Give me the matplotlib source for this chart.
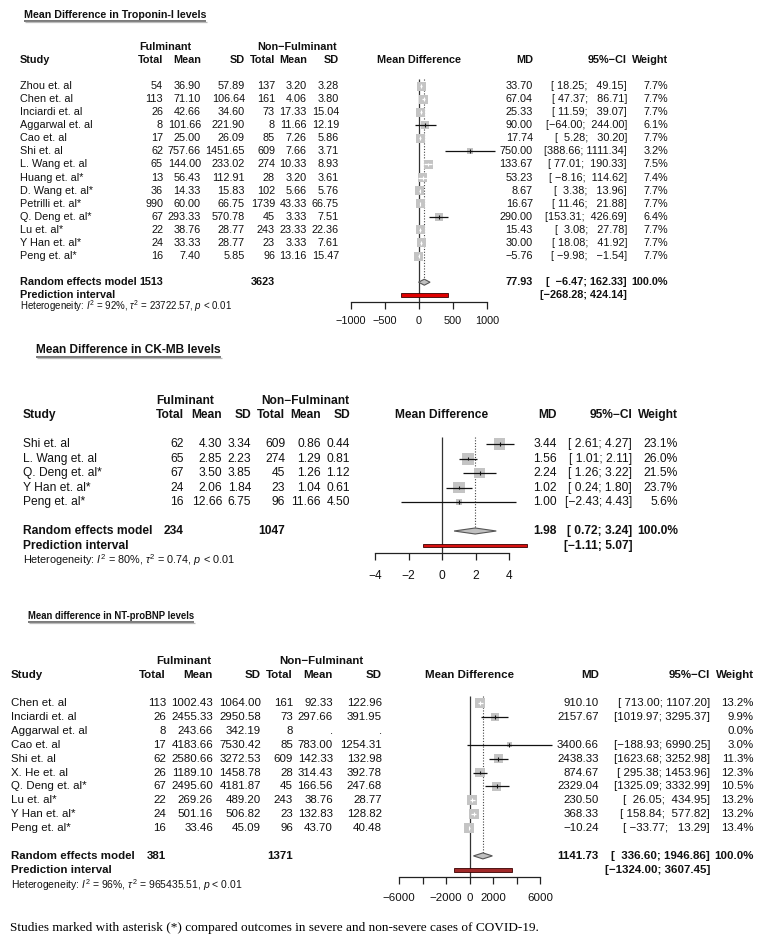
import numpy as np
import matplotlib
matplotlib.use("Agg")
import matplotlib.pyplot as plt
from matplotlib.transforms import blended_transform_factory

plt.rcParams['font.family'] = ['Liberation Sans', 'DejaVu Sans']
plt.rcParams['mathtext.fontset'] = 'custom'
plt.rcParams['mathtext.rm'] = 'Liberation Sans'
plt.rcParams['mathtext.it'] = 'Liberation Sans:italic'
plt.rcParams['mathtext.bf'] = 'Liberation Sans:bold'

NAN = float('nan')

# ---------------- Panel 1: Troponin-I ----------------
tn_title = "Mean Difference in Troponin-I levels"
tn_studies = ["Zhou et. al", "Chen et. al", "Inciardi et. al", "Aggarwal et. al", "Cao et. al",
              "Shi et. al", "L. Wang et. al", "Huang et. al*", "D. Wang et. al*", "Petrilli et. al*",
              "Q. Deng et. al*", "Lu et. al*", "Y Han et. al*", "Peng et. al*"]
tn_f_total = [54, 113, 26, 8, 17, 62, 65, 13, 36, 990, 67, 22, 24, 16]
tn_f_mean = [36.90, 71.10, 42.66, 101.66, 25.00, 757.66, 144.00, 56.43, 14.33, 60.00, 293.33, 38.76, 33.33, 7.40]
tn_f_sd = [57.89, 106.64, 34.60, 221.90, 26.09, 1451.65, 233.02, 112.91, 15.83, 66.75, 570.78, 28.77, 28.77, 5.85]
tn_n_total = [137, 161, 73, 8, 85, 609, 274, 28, 102, 1739, 45, 243, 23, 96]
tn_n_mean = [3.20, 4.06, 17.33, 11.66, 7.26, 7.66, 10.33, 3.20, 5.66, 43.33, 3.33, 23.33, 3.33, 13.16]
tn_n_sd = [3.28, 3.80, 15.04, 12.19, 5.86, 3.71, 8.93, 3.61, 5.76, 66.75, 7.51, 22.36, 7.61, 15.47]
tn_md = [33.70, 67.04, 25.33, 90.00, 17.74, 750.00, 133.67, 53.23, 8.67, 16.67, 290.00, 15.43, 30.00, -5.76]
tn_lo = [18.25, 47.37, 11.59, -64.00, 5.28, 388.66, 77.01, -8.16, 3.38, 11.46, 153.31, 3.08, 18.08, -9.98]
tn_hi = [49.15, 86.71, 39.07, 244.00, 30.20, 1111.34, 190.33, 114.62, 13.96, 21.88, 426.69, 27.78, 41.92, -1.54]
tn_w = [7.7, 7.7, 7.7, 6.1, 7.7, 3.2, 7.5, 7.4, 7.7, 7.7, 6.4, 7.7, 7.7, 7.7]
tn_pooled = [77.93, -6.47, 162.33]
tn_pred = [-268.28, 424.14]
tn_totals = [1513, 3623]
tn_het = "Heterogeneity: $I^2$ = 92%, $\\tau^2$ = 23722.57, $p$ < 0.01"
tn_ticks = [-1000, -500, 0, 500, 1000]
tn_ticklabels = ["\u22121000", "\u2212500", "0", "500", "1000"]

# ---------------- Panel 2: CK-MB ----------------
ck_title = "Mean Difference in CK-MB levels"
ck_studies = ["Shi et. al", "L. Wang et. al", "Q. Deng et. al*", "Y Han et. al*", "Peng et. al*"]
ck_f_total = [62, 65, 67, 24, 16]
ck_f_mean = [4.30, 2.85, 3.50, 2.06, 12.66]
ck_f_sd = [3.34, 2.23, 3.85, 1.84, 6.75]
ck_n_total = [609, 274, 45, 23, 96]
ck_n_mean = [0.86, 1.29, 1.26, 1.04, 11.66]
ck_n_sd = [0.44, 0.81, 1.12, 0.61, 4.50]
ck_md = [3.44, 1.56, 2.24, 1.02, 1.00]
ck_lo = [2.61, 1.01, 1.26, 0.24, -2.43]
ck_hi = [4.27, 2.11, 3.22, 1.80, 4.43]
ck_w = [23.1, 26.0, 21.5, 23.7, 5.6]
ck_pooled = [1.98, 0.72, 3.24]
ck_pred = [-1.11, 5.07]
ck_totals = [234, 1047]
ck_het = "Heterogeneity: $I^2$ = 80%, $\\tau^2$ = 0.74, $p$ < 0.01"
ck_ticks = [-4, -2, 0, 2, 4]
ck_ticklabels = ["\u22124", "\u22122", "0", "2", "4"]

# ---------------- Panel 3: NT-proBNP ----------------
bn_title = "Mean difference in NT-proBNP levels"
bn_studies = ["Chen et. al", "Inciardi et. al", "Aggarwal et. al", "Cao et. al", "Shi et. al",
              "X. He et. al", "Q. Deng et. al*", "Lu et. al*", "Y Han et. al*", "Peng et. al*"]
bn_f_total = [113, 26, 8, 17, 62, 26, 67, 22, 24, 16]
bn_f_mean = [1002.43, 2455.33, 243.66, 4183.66, 2580.66, 1189.10, 2495.60, 269.26, 501.16, 33.46]
bn_f_sd = [1064.00, 2950.58, 342.19, 7530.42, 3272.53, 1458.78, 4181.87, 489.20, 506.82, 45.09]
bn_n_total = [161, 73, 8, 85, 609, 28, 45, 243, 23, 96]
bn_n_mean = [92.33, 297.66, NAN, 783.00, 142.33, 314.43, 166.56, 38.76, 132.83, 43.70]
bn_n_sd = [122.96, 391.95, NAN, 1254.31, 132.98, 392.78, 247.68, 28.77, 128.82, 40.48]
bn_md = [910.10, 2157.67, NAN, 3400.66, 2438.33, 874.67, 2329.04, 230.50, 368.33, -10.24]
bn_lo = [713.00, 1019.97, NAN, -188.93, 1623.68, 295.38, 1325.09, 26.05, 158.84, -33.77]
bn_hi = [1107.20, 3295.37, NAN, 6990.25, 3252.98, 1453.96, 3332.99, 434.95, 577.82, 13.29]
bn_w = [13.2, 9.9, 0.0, 3.0, 11.3, 12.3, 10.5, 13.2, 13.2, 13.4]
bn_pooled = [1141.73, 336.60, 1946.86]
bn_pred = [-1324.00, 3607.45]
bn_totals = [381, 1371]
bn_het = "Heterogeneity: $I^2$ = 96%, $\\tau^2$ = 965435.51, $p$ < 0.01"
bn_ticks = [-6000, -4000, -2000, 0, 2000, 4000, 6000]
bn_ticklabels = ["\u22126000", "", "\u22122000", "0", "2000", "", "6000"]

footnote = "Studies marked with asterisk (*) compared outcomes in severe and non-severe cases of COVID-19."

MINUS = "\u2212"


def isnan(v):
    return isinstance(v, float) and np.isnan(v)


def fmt(v):
    if isnan(v):
        return "."
    return f"{v:.2f}".replace("-", MINUS)


def ci_strings(lo, hi):
    ls = [fmt(v) for v in lo]
    hs = [fmt(v) for v in hi]
    valid = [not isnan(v) for v in lo]
    wl = max(len(s) for s, ok in zip(ls, valid) if ok)
    wh = max(len(s) for s, ok in zip(hs, valid) if ok)
    return ["[" + a.rjust(wl) + "; " + b.rjust(wh) + "]" if ok else ""
            for a, b, ok in zip(ls, hs, valid)]


W, H = 764, 936
fig = plt.figure(figsize=(W / 100, H / 100), dpi=100)
bg = fig.add_axes([0, 0, 1, 1])
bg.set_xlim(0, W)
bg.set_ylim(H, 0)
bg.axis('off')

SQ = "#c4c4c4"
TXT = "#111111"


def panel(cfg, studies, f_total, f_mean, f_sd, n_total, n_mean, n_sd,
          md, lo, hi, w, pooled, pred, totals, het, ticks, ticklabels, title):
    y0, sp = cfg['y0'], cfg['sp']
    fs = cfg['fs']
    top_row, bot_row = -4.0, cfg['het_row'] + 3
    top_px, bot_px = y0 + top_row * sp, y0 + bot_row * sp
    lpx, rpx = cfg['plot_px']
    ax = fig.add_axes([lpx / W, 1 - bot_px / H, (rpx - lpx) / W, (bot_px - top_px) / H])
    zero, sc = cfg['zero'], cfg['scale']
    ax.set_xlim((lpx - zero) / sc, (rpx - zero) / sc)
    ax.set_ylim(bot_row, top_row)
    ax.patch.set_visible(False)
    for s in ['top', 'right', 'left']:
        ax.spines[s].set_visible(False)
    ax.spines['bottom'].set_position(('data', cfg['axis_row']))
    ax.spines['bottom'].set_bounds(ticks[0], ticks[-1])
    ax.spines['bottom'].set_linewidth(0.9)
    ax.spines['bottom'].set_color('#222222')
    ax.set_xticks(ticks)
    ax.set_xticklabels(ticklabels)
    ax.set_yticks([])
    ax.tick_params(axis='x', length=5, width=0.9, pad=cfg['tick_pad'], labelsize=cfg['tick_fs'],
                   color='#222222', labelcolor=TXT)
    tr = blended_transform_factory(bg.transData, ax.transData)

    n = len(studies)
    rows = np.arange(n)
    re_row, pi_row = cfg['re_row'], cfg['pi_row']

    def T(x, y, s, ha='right', bold=False, size=None):
        ax.text(x, y, s, transform=tr, ha=ha, va='center', fontsize=size or fs,
                fontweight='bold' if bold else 'normal', color=TXT, clip_on=False)

    c = cfg['cols']
    # headers
    T(cfg['fhead'], -3, "Fulminant", ha='center', bold=True)
    T(cfg['nhead'], -3, "Non" + MINUS + "Fulminant", ha='center', bold=True)
    T(cfg['study_x'], -2, "Study", ha='left', bold=True)
    for x, s in zip(c, ["Total", "Mean", "SD", "Total", "Mean", "SD"]):
        T(x, -2, s, bold=True)
    T(zero, -2, "Mean Difference", ha='center', bold=True)
    T(cfg['md_x'], -2, "MD", bold=True)
    T(cfg['ci_x'], -2, "95%" + MINUS + "CI", bold=True)
    T(cfg['w_x'], -2, "Weight", bold=True)

    cis = ci_strings(lo, hi)
    for i in range(n):
        T(cfg['study_x'], i, studies[i], ha='left')
        T(c[0], i, str(f_total[i]))
        T(c[1], i, fmt(f_mean[i]))
        T(c[2], i, fmt(f_sd[i]))
        T(c[3], i, str(n_total[i]))
        T(c[4], i, fmt(n_mean[i]))
        T(c[5], i, fmt(n_sd[i]))
        if not isnan(md[i]):
            T(cfg['md_x'], i, fmt(md[i]))
            T(cfg['ci_x'], i, cis[i])
        T(cfg['w_x'], i, f"{w[i]:.1f}%")

    # pooled rows
    pc = ci_strings([pooled[1], pred[0]], [pooled[2], pred[1]])
    T(cfg['study_x'], re_row, "Random effects model", ha='left', bold=True)
    T(c[0], re_row, str(totals[0]), bold=True)
    T(c[3], re_row, str(totals[1]), bold=True)
    T(cfg['md_x'], re_row, fmt(pooled[0]), bold=True)
    T(cfg['ci_x'], re_row, pc[0], bold=True)
    T(cfg['w_x'], re_row, "100.0%", bold=True)
    T(cfg['study_x'], pi_row, "Prediction interval", ha='left', bold=True)
    T(cfg['ci_x'], pi_row, pc[1], bold=True)
    T(cfg['study_x'], cfg['het_row'], het, ha='left', size=cfg['het_fs'])

    # reference lines
    ax.vlines(0, -0.5, cfg['axis_row'], colors='#333333', lw=0.9)
    ax.vlines(pooled[0], -0.5, re_row, colors='#444444', lw=0.8, linestyles=(0, (1, 1.5)))

    # study boxes
    md_a = np.array(md, dtype=float)
    lo_a = np.array(lo, dtype=float)
    hi_a = np.array(hi, dtype=float)
    w_a = np.array(w, dtype=float)
    ok = ~np.isnan(md_a) & (w_a > 0)
    side = cfg['box'] * np.sqrt(w_a / w_a.max())
    inside = ((md_a - lo_a) * sc <= side / 2) & ((hi_a - md_a) * sc <= side / 2)
    lcol = np.where(inside, 'white', '#111111')
    ax.scatter(md_a[ok], rows[ok], s=(side[ok] * 0.72) ** 2, marker='s', color=SQ,
               linewidths=0, zorder=3, clip_on=False)
    ax.hlines(rows[ok], lo_a[ok], hi_a[ok], colors=list(lcol[ok]), lw=0.9, zorder=4, clip_on=False)
    ax.scatter(md_a[ok], rows[ok], s=8, marker='|', c=list(lcol[ok]), linewidths=0.8,
               zorder=5, clip_on=False)

    # diamond
    dh = 3.0 / sp
    ax.fill([pooled[1], pooled[0], pooled[2], pooled[0]],
            [re_row, re_row - dh, re_row, re_row + dh],
            facecolor='#c0c0c0', edgecolor='#555555', lw=0.8, zorder=4, clip_on=False)
    # prediction interval
    ax.barh(pi_row, pred[1] - pred[0], left=pred[0], height=3.6 / sp,
            color=cfg['pred_col'], edgecolor='#3a0000', lw=0.6, zorder=4, clip_on=False)

    # title
    t = bg.text(cfg['title_xy'][0], cfg['title_xy'][1], title, ha='left', va='center',
                fontsize=cfg['title_fs'], fontweight='bold', color=TXT)
    return t


cfg1 = dict(y0=86, sp=13.08, fs=7.8, het_fs=7.0, tick_fs=7.8, tick_pad=5.5, re_row=15, pi_row=16,
            axis_row=16.5, het_row=16.85, plot_px=(330, 510), zero=419, scale=0.068,
            cols=[163, 201, 245, 275, 307, 339], fhead=165, nhead=297, study_x=20,
            md_x=533, ci_x=627, w_x=668, box=9, pred_col='#e00000',
            title_xy=(24, 15), title_fs=7.7)
cfg2 = dict(y0=444, sp=14.5, fs=8.65, het_fs=7.8, tick_fs=8.65, tick_pad=7.5, re_row=6, pi_row=7,
            axis_row=7.5, het_row=8, plot_px=(360, 530), zero=442, scale=16.75,
            cols=[184, 222, 251, 285, 321, 350], fhead=185, nhead=305, study_x=23,
            md_x=557, ci_x=632, w_x=678, box=12, pred_col='#d81010',
            title_xy=(36, 350), title_fs=8.56)
cfg3 = dict(y0=703, sp=13.9, fs=8.25, het_fs=7.5, tick_fs=8.25, tick_pad=6.5, re_row=11, pi_row=12,
            axis_row=12.5, het_row=13.1, plot_px=(390, 560), zero=469.5, scale=0.01175,
            cols=[166, 213, 261, 293, 333, 382], fhead=184, nhead=321, study_x=11,
            md_x=599, ci_x=710, w_x=754, box=10, pred_col='#a02828',
            title_xy=(28, 616), title_fs=6.87)

titles = []
titles.append(panel(cfg1, tn_studies, tn_f_total, tn_f_mean, tn_f_sd, tn_n_total, tn_n_mean, tn_n_sd,
                    tn_md, tn_lo, tn_hi, tn_w, tn_pooled, tn_pred, tn_totals, tn_het,
                    tn_ticks, tn_ticklabels, tn_title))
titles.append(panel(cfg2, ck_studies, ck_f_total, ck_f_mean, ck_f_sd, ck_n_total, ck_n_mean, ck_n_sd,
                    ck_md, ck_lo, ck_hi, ck_w, ck_pooled, ck_pred, ck_totals, ck_het,
                    ck_ticks, ck_ticklabels, ck_title))
titles.append(panel(cfg3, bn_studies, bn_f_total, bn_f_mean, bn_f_sd, bn_n_total, bn_n_mean, bn_n_sd,
                    bn_md, bn_lo, bn_hi, bn_w, bn_pooled, bn_pred, bn_totals, bn_het,
                    bn_ticks, bn_ticklabels, bn_title))

bg.text(10, 928, footnote, ha='left', va='center', fontsize=9.55,
        family=['Liberation Serif', 'DejaVu Serif'], color='#000000')

# underline titles
fig.canvas.draw()
r = fig.canvas.get_renderer()
inv = bg.transData.inverted()
for t in titles:
    bb = t.get_window_extent(renderer=r)
    (x0, yb), (x1, yt) = inv.transform([[bb.x0, bb.y0], [bb.x1, bb.y1]])
    bg.plot([x0, x1], [yb + 1.2, yb + 1.2], color='#555555', lw=1.1, solid_capstyle='butt')
    bg.plot([x0 + 1, x1 + 1], [yb + 2.4, yb + 2.4], color='#bbbbbb', lw=0.9, solid_capstyle='butt')

fig.savefig("out.png", dpi=100)
